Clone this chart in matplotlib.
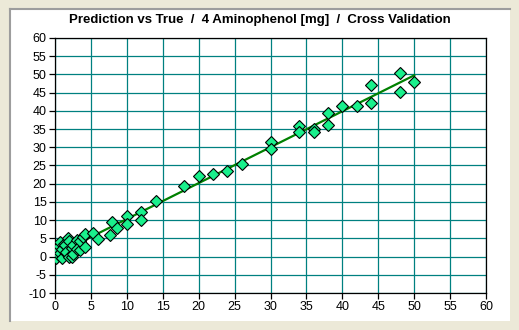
import matplotlib
matplotlib.use("Agg")
import matplotlib.pyplot as plt
from matplotlib.patches import Rectangle
import numpy as np

plt.rcParams["font.family"] = ["Liberation Sans", "DejaVu Sans"]
plt.rcParams["axes.unicode_minus"] = False

# Cross validation results: reference (true) vs predicted amount
true_mg = [0.2, 0.2, 0.5, 0.5, 0.7, 0.7, 1.0, 1.0, 1.2, 1.4, 1.5, 1.6, 1.8, 2.0, 2.0,
           2.3, 2.3, 2.5, 2.5, 3.0, 3.0, 3.5, 3.5, 3.9, 4.2, 4.2, 5.3, 6.0,
           7.6, 7.9, 8.7, 10.0, 10.0, 12.0, 12.0, 14.0, 18.0, 20.0, 22.0, 24.0, 26.0,
           30.0, 30.0, 34.0, 34.0, 36.0, 36.0, 38.0, 38.0, 40.0, 42.0, 44.0, 44.0,
           48.0, 48.0, 50.0]
pred_mg = [2.0, -0.5, 3.0, 0.5, 4.1, 0.9, 2.0, -0.3, 3.5, 3.2, 1.0, 1.3, 5.0, 4.4, 0.0,
           2.3, 0.0, 3.2, 0.8, 4.5, 2.0, 1.8, 4.2, 5.5, 6.2, 2.7, 6.6, 4.7,
           5.9, 9.6, 7.9, 11.0, 9.0, 12.2, 10.0, 15.3, 19.4, 22.1, 22.8, 23.6, 25.4,
           31.5, 29.4, 35.8, 34.3, 35.0, 34.3, 39.3, 36.1, 41.4, 41.3, 47.1, 42.2,
           50.5, 45.1, 47.8]

x_ticks = np.arange(0, 61, 5)
y_ticks = np.arange(-10, 61, 5)

W, H = 519, 330
fig = plt.figure(figsize=(W / 100, H / 100), dpi=100)
fig.patch.set_facecolor("#ECE9D8")

# white sunken panel behind the chart
bg = fig.add_axes([0, 0, 1, 1], zorder=0)
bg.set_xlim(0, W)
bg.set_ylim(H, 0)
bg.axis("off")
bg.add_patch(Rectangle((10, 8), 500, 313, facecolor="white", edgecolor="none"))
bg.plot([10, 510], [8.5, 8.5], color="#9D9D9D", lw=1.5)
bg.plot([10, 10], [8.5, 321], color="#9D9D9D", lw=1.5)

ax = fig.add_axes([55 / W, 1 - 293 / H, 431 / W, 255 / H], zorder=1)
ax.set_facecolor("white")

# regression line across the range of the data
k, b = np.polyfit(true_mg, pred_mg, 1)
xl = np.array([min(true_mg), max(true_mg)])
ax.plot(xl, k * xl + b, color="#008000", lw=1.6, zorder=3)

ax.plot(true_mg, pred_mg, linestyle="none", marker="D", markersize=5.8,
        markerfacecolor="#19F08C", markeredgecolor="black", markeredgewidth=0.8,
        zorder=4)

ax.set_xlim(0, 60)
ax.set_ylim(-10, 60)
ax.set_xticks(x_ticks)
ax.set_yticks(y_ticks)
ax.grid(True, color="#008080", lw=0.9)
ax.set_axisbelow(True)
for s in ax.spines.values():
    s.set_color("black")
    s.set_linewidth(0.9)
ax.tick_params(length=4, width=0.9, color="black", labelsize=9, pad=2)

fig.text(0.5, 1 - 20 / H, "Prediction vs True  /  4 Aminophenol [mg]  /  Cross Validation",
         ha="center", va="center", fontsize=9.5, fontweight="bold")

fig.savefig("out.png", dpi=100, facecolor=fig.get_facecolor())
